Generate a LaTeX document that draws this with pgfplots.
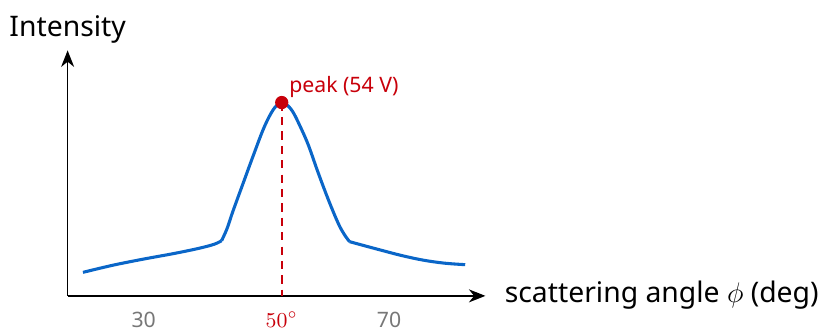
\documentclass[border=0pt]{standalone}
\usepackage{fontspec}
\setmainfont{Noto Sans}
\usepackage{pgfplots}
\pgfplotsset{compat=1.18}
\usetikzlibrary{arrows.meta}
\definecolor{curveblue}{HTML}{0A66C8}
\definecolor{peakred}{HTML}{C8000A}
\definecolor{tickgray}{HTML}{777777}
\begin{document}
\begin{tikzpicture}
\begin{axis}[
  scale only axis, width=177pt, height=104pt,
  xmin=17.6, xmax=85.7, ymin=0, ymax=240,
  axis lines=left,
  axis line style={line width=0.65pt, -{Stealth[length=7pt,width=5.5pt,inset=2.2pt]}},
  ytick=\empty,
  xtick={30,70}, xticklabels={30,70},
  major tick length=0pt,
  /pgf/number format/assume math mode=true,
  xticklabel style={anchor=base, yshift=-13.6pt, inner xsep=0pt, inner ysep=1.6pt, font=\fontsize{9}{10}\selectfont, text=tickgray},
  extra x ticks={52.5}, extra x tick labels={$50^\circ$},
  extra x tick style={xticklabel style={text=peakred}},
  every axis x label/.style={at={(axis description cs:1,0)}, anchor=base west, xshift=7pt, yshift=-2.6pt, inner xsep=1pt, inner ysep=0pt, font=\fontsize{12}{14}\selectfont},
  every axis y label/.style={at={(axis description cs:0,1)}, anchor=base, yshift=6pt, inner xsep=4pt, inner ysep=6.5pt, font=\fontsize{12}{14}\selectfont},
  xlabel={scattering angle $\phi$ (deg)},
  ylabel={Intensity},
  clip=false,
]
\addplot[curveblue, line width=1.3pt, smooth, tension=0.6] coordinates {
  (20.1,23) (25,30) (30,36) (35,41.5) (39,46.5) (41.5,50.5) (42.7,54)
};
\addplot[curveblue, line width=1.3pt, smooth, tension=0.6] coordinates {
  (42.7,54) (43.6,66) (44.5,82) (46.2,110) (47.85,137) (49.5,163) (50.8,179) (51.8,187) (52.5,189)
  (53.3,187) (54.3,180) (55.4,167) (56.8,148) (58.4,121) (60.1,94) (61.7,71) (62.7,60) (63.55,53)
};
\addplot[curveblue, line width=1.3pt, smooth, tension=0.6] coordinates {
  (63.55,53) (66,49) (68.8,44.5) (72,39.5) (75.5,35) (79,32) (82.4,30.5)
};
\addplot[peakred, line width=0.9pt, dash pattern=on 3.5pt off 2.6pt] coordinates {(52.5,189) (52.5,0)};
\addplot[peakred, only marks, mark=*, mark size=2.6pt] coordinates {(52.5,189)}
  node[anchor=base west, inner sep=0pt, xshift=3pt, yshift=4.3pt, font=\fontsize{9}{10}\selectfont, text=peakred] {peak (54 V)};
\end{axis}
\end{tikzpicture}
\end{document}
